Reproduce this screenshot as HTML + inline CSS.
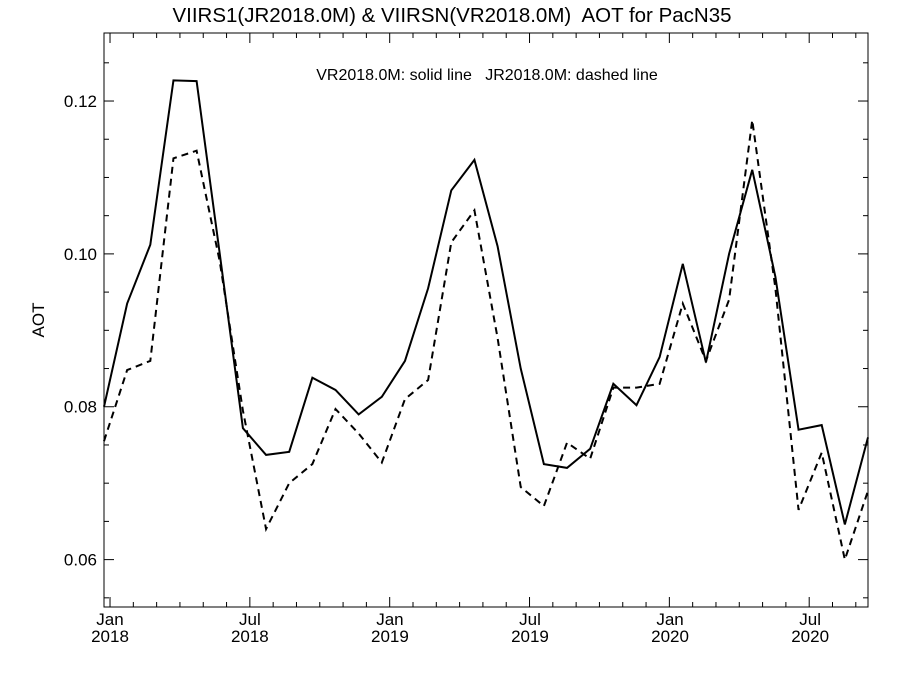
<!DOCTYPE html>
<html><head><meta charset="utf-8"><style>
body{margin:0;background:#fff}
svg text{font-family:"Liberation Sans",Arial,sans-serif;fill:#000;white-space:pre}
</style></head><body>
<svg id="chart" width="900" height="675" viewBox="0 0 900 675" xmlns="http://www.w3.org/2000/svg">
<text x="452" y="22" font-size="20.5" text-anchor="middle">VIIRS1(JR2018.0M) &amp; VIIRSN(VR2018.0M)  AOT for PacN35</text>
<text x="487" y="80" font-size="16" text-anchor="middle">VR2018.0M: solid line   JR2018.0M: dashed line</text>
<text transform="translate(44,320) rotate(-90)" font-size="17" text-anchor="middle">AOT</text>
<g id="axes"></g>
<g id="series"></g>
</svg>
<script>
const solidVals=[0.0800,0.0935,0.1012,0.1227,0.1226,0.1000,0.0772,0.0737,0.0741,0.0838,0.0822,0.0790,0.0813,0.0860,0.0955,0.1083,0.1123,0.1010,0.0850,0.0725,0.0720,0.0745,0.0830,0.0802,0.0865,0.0987,0.0858,0.1000,0.1110,0.0970,0.0770,0.0776,0.0646,0.0760];
const dashedVals=[0.0755,0.0848,0.0860,0.1125,0.1135,0.0990,0.0795,0.0640,0.0700,0.0725,0.0797,0.0765,0.0727,0.0810,0.0835,0.1015,0.1057,0.0890,0.0695,0.0670,0.0753,0.0732,0.0825,0.0825,0.0830,0.0935,0.0860,0.0940,0.1175,0.0955,0.0665,0.0740,0.0600,0.0690];
const yTicks=[0.06,0.08,0.10,0.12];
const yTickLabels=["0.06","0.08","0.10","0.12"];
const xTickPos=[0.26,6.3,12.35,18.4,24.45,30.5];
const xTickMonth=["Jan","Jul","Jan","Jul","Jan","Jul"];
const xTickYear=["2018","2018","2019","2019","2020","2020"];
const L=104,R=868,T=33,B=607,yMin=0.0538,yMax=0.1289,nPts=34;
const xs=i=>L+i*(R-L)/(nPts-1);
const ys=v=>B-(v-yMin)/(yMax-yMin)*(B-T);
const NS="http://www.w3.org/2000/svg";
function mk(tag,attrs,parent){const e=document.createElementNS(NS,tag);for(const k in attrs)e.setAttribute(k,attrs[k]);parent.appendChild(e);return e;}
const ax=document.getElementById('axes'),sr=document.getElementById('series');
const frame=mk('rect',{x:L,y:T,width:R-L,height:B-T,fill:'none',stroke:'#000','stroke-width':1},ax);


for(let v=0.055;v<=0.1285;v+=0.005){const y=ys(v);const major=yTicks.some(t=>Math.abs(t-v)<1e-6);const len=major?10:5;
 const t1=mk('line',{x1:L,y1:y,x2:L+len,y2:y,stroke:'#000'},ax);
 
 
 const t2=mk('line',{x1:R,y1:y,x2:R-len,y2:y,stroke:'#000'},ax);
 
 }
yTicks.forEach((v,i)=>{const t=mk('text',{x:L-7,y:ys(v)+6,'font-size':17,'text-anchor':'end'},ax);t.textContent=yTickLabels[i];
 
 });
for(let k=0;k<34;k++){const p=0.26+k*(6.04/6);const x=xs(p);if(x>R)break;const major=k%6===0;const len=major?10:5;
 const a=mk('line',{x1:x,y1:B,x2:x,y2:B-len,stroke:'#000'},ax);
 
 
 const b=mk('line',{x1:x,y1:T,x2:x,y2:T+len,stroke:'#000'},ax);
 
 }
xTickPos.forEach((p,i)=>{const x=xs(p);
 const t=mk('text',{x:x,y:625,'font-size':17,'text-anchor':'middle'},ax);t.textContent=xTickMonth[i];
 
 
 const u=mk('text',{x:x,y:642,'font-size':17,'text-anchor':'middle'},ax);u.textContent=xTickYear[i];
 
 });
const solid=mk('polyline',{points:solidVals.map((v,i)=>xs(i)+','+ys(v)).join(' '),fill:'none',stroke:'#000','stroke-width':2},sr);


const dashed=mk('polyline',{points:dashedVals.map((v,i)=>xs(i)+','+ys(v)).join(' '),fill:'none',stroke:'#000','stroke-width':2,'stroke-dasharray':'7,5'},sr);


</script>
</body></html>
